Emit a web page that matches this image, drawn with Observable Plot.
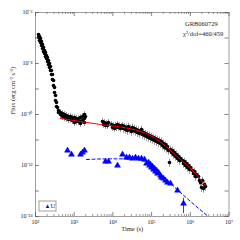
<!DOCTYPE html>
<html><head><meta charset="utf-8">
<script src="https://cdn.jsdelivr.net/npm/d3@7"></script>
<script src="https://cdn.jsdelivr.net/npm/@observablehq/plot@0.6"></script>
<style>
body{margin:0;background:#fff}
svg{font-family:"Liberation Serif","DejaVu Serif",serif}
</style>
</head><body><div id="chart"></div>
<script>
// X-ray flux (time s, flux erg cm^-2 s^-1)
const xrtEarly = [[120,1.37e-7],[120,1.05e-7],[127,1.15e-7],[127,7.97e-8],[135,9.55e-8],[135,6.67e-8],[143,7.29e-8],[143,5.08e-8],[152,5.56e-8],[152,3.88e-8],[161,4.24e-8],[161,2.96e-8],[171,3.24e-8],[171,2.47e-8],[181,2.70e-8],[181,1.88e-8],[192,2.06e-8],[192,1.57e-8],[204,1.72e-8],[204,1.20e-8],[217,1.31e-8],[217,9.14e-9],[230,1.0e-8],[230,6.97e-9],[244,7.63e-9],[244,5.31e-9],[259,5.31e-9],[259,3.70e-9],[275,3.70e-9],[275,2.36e-9],[292,2.15e-9],[292,1.37e-9],[310,1.15e-9],[310,7.29e-10],[329,5.56e-10],[329,3.54e-10],[349,2.95e-10],[349,2.06e-10],[370,1.88e-10],[393,1.43e-10],[393,1.20e-10]];
const xrtPlateau1 = [[443,1.20e-10],[443,1.0e-10],[499,1.09e-10],[499,8.35e-11],[562,1.0e-10],[562,7.63e-11],[632,9.14e-11],[632,6.97e-11],[713,8.35e-11],[713,6.37e-11],[802,8.35e-11],[802,6.37e-11],[904,7.63e-11],[904,5.82e-11],[1019,7.63e-11],[1019,5.82e-11],[1019,4.85e-11],[1147,6.97e-11],[1147,5.31e-11],[1292,6.97e-11],[1292,5.31e-11],[1455,7.63e-11],[1455,5.31e-11],[1455,4.43e-11],[1638,8.35e-11],[1638,5.82e-11],[1845,1.0e-10],[1845,6.97e-11],[1845,4.85e-11],[1958,8.35e-11]];
const xrtPlateau2 = [[5386,5.31e-11],[5717,4.05e-11],[6067,4.85e-11],[6438,3.70e-11],[6832,4.43e-11],[7252,3.70e-11],[7696,4.85e-11],[9200,4.05e-11],[9765,3.09e-11],[10360,3.70e-11],[11000,2.82e-11],[11680,3.70e-11],[12390,3.09e-11],[13150,4.05e-11],[13950,3.09e-11],[14810,3.70e-11],[15720,2.82e-11],[16680,3.38e-11]];
const xrtLate = [[17710,3.70e-11],[18790,2.82e-11],[19940,3.38e-11],[21170,2.58e-11],[22460,3.09e-11],[23840,2.36e-11],[25300,3.38e-11],[26850,2.58e-11],[28500,2.82e-11],[30240,2.15e-11],[32100,3.09e-11],[34070,2.36e-11],[36150,2.82e-11],[38370,2.15e-11],[40720,2.58e-11],[43220,1.97e-11],[45860,2.36e-11],[48670,1.80e-11],[51660,2.15e-11],[54830,2.58e-11],[58200,1.64e-11],[61770,1.97e-11],[65550,1.50e-11],[69570,1.80e-11],[73840,1.37e-11],[78370,1.64e-11],[83180,1.25e-11],[88260,1.50e-11],[93680,1.15e-11],[99400,1.37e-11],[105500,1.05e-11],[112000,1.25e-11],[118800,9.55e-12],[126100,1.15e-11],[133900,8.73e-12],[142100,1.05e-11],[150800,7.97e-12],[160000,9.55e-12],[169800,7.29e-12],[180300,8.73e-12],[191300,6.08e-12],[203000,7.29e-12],[215400,5.08e-12],[228700,6.67e-12],[242700,4.65e-12],[257500,5.56e-12],[273400,3.88e-12],[290100,1.31e-12],[307900,4.24e-12],[326800,3.24e-12],[346900,3.88e-12],[368100,2.70e-12],[390600,3.24e-12],[414600,2.25e-12],[440000,2.70e-12],[467000,1.88e-12],[495600,2.25e-12],[526000,1.57e-12],[558300,1.88e-12],[628800,1.57e-12],[667400,1.20e-12],[708300,1.43e-12],[751700,1.0e-12],[797800,1.20e-12],[846800,8.35e-13],[898700,1.0e-12],[953500,6.97e-13],[1.012e6,8.35e-13],[1.14e6,6.37e-13],[1.21e6,4.85e-13],[1.284e6,5.82e-13],[1.363e6,3.70e-13],[1.446e6,4.43e-13],[1.629e6,3.70e-13],[1.729e6,2.58e-13],[1.835e6,2.15e-13],[1.948e6,1.37e-13],[2.067e6,2.58e-13],[2.194e6,1.25e-13],[2.328e6,1.80e-13],[2.471e6,1.50e-13]];
// relative flux errors per segment
const errEarly = 0.08, errPlateau = 0.3, errLate = 0.35;

// UVOT U-band points
const uvPoints = [[672,3.88e-12],[851,2.70e-12],[1455,2.70e-12],[1638,3.24e-12],[1845,3.88e-12],[6438,1.43e-12],[7696,1.43e-12],[13150,1.0e-12],[17710,2.70e-12],[22460,2.06e-12],[26850,2.06e-12],[32100,1.88e-12],[38370,2.06e-12],[45860,1.88e-12],[54830,1.88e-12],[65550,1.72e-12],[73840,1.20e-12],[83180,1.31e-12],[88260,1.0e-12],[93680,1.09e-12],[99400,8.35e-13],[105500,9.14e-13],[112000,6.97e-13],[118800,7.63e-13],[126100,5.82e-13],[133900,6.37e-13],[142100,4.85e-13],[150800,5.31e-13],[169800,4.05e-13],[180300,3.38e-13],[203000,3.09e-13],[228700,2.58e-13],[257500,2.15e-13],[307900,1.97e-13],[467000,1.05e-13],[667400,3.24e-14]];
const uvErr = [0.1,0.1,0.1,0.1,0.1,0.1,0.1,0.1,0.1,0.1,0.1,0.1,0.1,0.1,0.1,0.1,0.1,0.1,0.1,0.1,0.1,0.1,0.1,0.1,0.1,0.1,0.1,0.1,0.1,0.1,0.1,0.1,0.1,0.1,0.15,0.6];

// fitted models
const xrtFit = [[443,6.97e-11],[1455,5.31e-11],[4790,4.05e-11],[15700,3.24e-11],[38400,2.47e-11],[51700,2.15e-11],[93700,1.50e-11],[169900,8.36e-12],[308000,3.88e-12],[558300,1.72e-12],[1.012e6,7.63e-13],[1.835e6,2.82e-13],[2.47e6,1.64e-13]];
const uvFit = [[2080,1.72e-12],[8670,1.83e-12],[28500,1.80e-12],[51700,1.64e-12],[73800,1.31e-12],[105000,8.4e-13],[170000,4.44e-13],[308000,1.97e-13],[1.01e6,3.9e-14],[3.13e6,9.1e-15]];

// axes
const xMajor = [1e2,1e3,1e4,1e5,1e6,1e7];
const xTickLabels = ["10²","10³","10⁴","10⁵","10⁶","10⁷"];
const yMajor = [1e-14,1e-13,1e-12,1e-11,1e-10,1e-9,1e-8,1e-7,1e-6];
const yLabelVals = [1e-14,1e-12,1e-10,1e-8,1e-6];
const yTickLabels = ["10⁻¹⁴","10⁻¹²","10⁻¹⁰","10⁻⁸","10⁻⁶"];
const xMinor = [];
for (let e = 2; e < 7; e++) for (let m = 2; m <= 9; m++) xMinor.push(m * 10 ** e);

const title1 = "GRB060729";
const title2 = "χ²/dof=460/459";
const xLabel = "Time (s)";
const yLabel = "Flux (erg cm⁻² s⁻¹)";
const legendLabel = "U";

const W = 240, H = 240, mL = 35, mR = 11.5, mT = 12, mB = 24;
const innerH = H - mT - mB, innerW = W - mL - mR;

const xrt = [
  ...xrtEarly.map(d => ({t: d[0], f: d[1], e: errEarly})),
  ...xrtPlateau1.map(d => ({t: d[0], f: d[1], e: errPlateau})),
  ...xrtPlateau2.map(d => ({t: d[0], f: d[1], e: errPlateau})),
  ...xrtLate.map(d => ({t: d[0], f: d[1], e: errLate}))
];
const uv = uvPoints.map((d, i) => ({t: d[0], f: d[1], e: uvErr[i]}));

const fs = 6;
const plot = Plot.plot({
  width: W, height: H,
  marginLeft: mL, marginRight: mR, marginTop: mT, marginBottom: mB,
  x: {type: "log", domain: [1e2, 1e7], axis: null},
  y: {type: "log", domain: [1e-14, 1e-6], axis: null},
  style: {fontFamily: "'Liberation Serif', serif", background: "#fff"},
  marks: [
    Plot.ruleX(xrt, {x: "t", y1: d => d.f * (1 - d.e), y2: d => d.f * (1 + d.e), stroke: "#555", strokeWidth: 0.6}),
    Plot.dot(xrt, {x: "t", y: "f", r: 1.8, fill: "black"}),
    Plot.line(xrtFit, {x: d => d[0], y: d => d[1], stroke: "red", strokeWidth: 1, curve: "monotone-x"}),
    Plot.line(uvFit, {x: d => d[0], y: d => d[1], stroke: "blue", strokeWidth: 1, strokeDasharray: "3,2.5", curve: "monotone-x", clip: true}),
    Plot.ruleX(uv, {x: "t", y1: d => d.f * (1 - d.e), y2: d => d.f * (1 + d.e), stroke: "blue", strokeWidth: 0.8}),
    Plot.dot(uv, {x: "t", y: "f", r: 2.2, symbol: "triangle", fill: "blue", stroke: "blue", strokeWidth: 0.5}),
    Plot.frame({stroke: "#888", strokeWidth: 0.8}),
    Plot.tickX(xMajor, {x: d => d, insetTop: innerH - 4, stroke: "#555", strokeWidth: 0.7}),
    Plot.tickX(xMajor, {x: d => d, insetBottom: innerH - 4, stroke: "#555", strokeWidth: 0.7}),
    Plot.tickX(xMinor, {x: d => d, insetTop: innerH - 2, stroke: "#555", strokeWidth: 0.6}),
    Plot.tickX(xMinor, {x: d => d, insetBottom: innerH - 2, stroke: "#555", strokeWidth: 0.6}),
    Plot.tickY(yMajor, {y: d => d, insetRight: innerW - 4, stroke: "#555", strokeWidth: 0.7}),
    Plot.tickY(yMajor, {y: d => d, insetLeft: innerW - 4, stroke: "#555", strokeWidth: 0.7}),
    Plot.text(xMajor, {x: d => d, frameAnchor: "bottom", dy: 7, text: (d, i) => xTickLabels[i], fontSize: fs, fill: "#222"}),
    Plot.text(yLabelVals, {y: d => d, frameAnchor: "left", dx: -3, textAnchor: "end", text: (d, i) => yTickLabels[i], fontSize: fs, fill: "#222"}),
    Plot.text([xLabel], {frameAnchor: "bottom", dy: 14, text: d => d, fontSize: 6.5, fill: "#222"}),
    Plot.text([yLabel], {frameAnchor: "left", dx: -23, rotate: -90, text: d => d, fontSize: 6.5, fill: "#222"}),
    Plot.text([title1], {frameAnchor: "top-right", dx: -44, dy: 9, textAnchor: "start", text: d => d, fontSize: 6.5, fill: "#222"}),
    Plot.text([title2], {frameAnchor: "top-right", dx: -46, dy: 19, textAnchor: "start", text: d => d, fontSize: 6.5, fill: "#222"}),
    Plot.text(["▲"], {frameAnchor: "bottom-left", dx: 9, dy: -9, text: d => d, fontSize: 6, fill: "blue"}),
    Plot.text([legendLabel], {frameAnchor: "bottom-left", dx: 15, dy: -9, textAnchor: "start", text: d => d, fontSize: 6.5, fill: "#222"})
  ]
});
// legend box
d3.select(plot).append("rect")
  .attr("x", mL + 4).attr("y", H - mB - 15).attr("width", 17).attr("height", 10)
  .attr("fill", "none").attr("stroke", "#888").attr("stroke-width", 0.8);
document.getElementById("chart").appendChild(plot);
</script>
</body></html>
